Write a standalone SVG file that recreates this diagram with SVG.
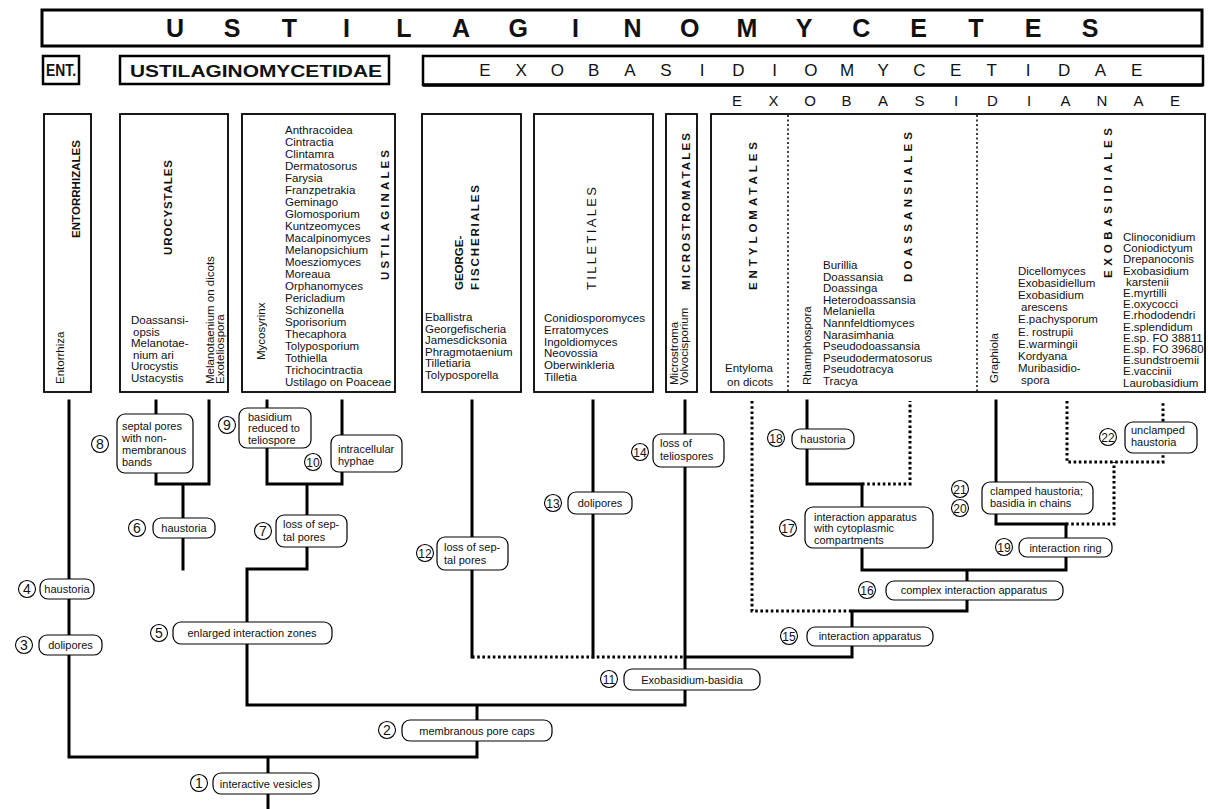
<svg xmlns="http://www.w3.org/2000/svg" width="1208" height="809" viewBox="0 0 1208 809">
<style>
text{font-family:"Liberation Sans",Arial,Helvetica,sans-serif;fill:#111}
.ln{stroke:#000;stroke-width:3;fill:none;stroke-linecap:square}
.dt{stroke:#000;stroke-width:3;fill:none;stroke-dasharray:2.6 2.6}
.bx{fill:#fff;stroke:#000;stroke-width:1.8}
.dv{stroke:#000;stroke-width:1.5;stroke-dasharray:2 2.5;fill:none}
.lb{fill:#fff;stroke:#000;stroke-width:1.2}
.cn{fill:#fff;stroke:#000;stroke-width:1.1}
.t{font-size:11px}
.c{text-anchor:middle}
.num{font-size:14px;text-anchor:middle}
.num2{font-size:12px;text-anchor:middle}
.g{font-size:11.5px}
.h{font-size:11.5px;font-weight:bold}
.top{font-size:25px;font-weight:bold;text-anchor:middle}
.r2{font-size:17px;text-anchor:middle}
.r3{font-size:15px;text-anchor:middle}
</style>

<g id="header">
<rect x="42" y="10" width="1160" height="36" fill="#fff" stroke="#000" stroke-width="3"/>
<text class="top" x="175 232.2 289.4 346.6 403.8 461 518.2 575.4 632.6 689.8 747 804.2 861.4 918.6 975.8 1033 1090.2" y="37">USTILAGINOMYCETES</text>
<rect x="43" y="56" width="36" height="28" fill="#fff" stroke="#000" stroke-width="2.5"/>
<text x="46" y="76" font-size="16" font-weight="bold" textLength="30" lengthAdjust="spacingAndGlyphs">ENT.</text>
<rect x="120" y="56" width="269" height="28" fill="#fff" stroke="#000" stroke-width="2.5"/>
<text x="130" y="77" font-size="17" font-weight="bold" textLength="252" lengthAdjust="spacingAndGlyphs">USTILAGINOMYCETIDAE</text>
<rect x="423" y="56" width="780" height="29" fill="#fff" stroke="#000" stroke-width="2.5"/>
<line x1="423" y1="85" x2="1203" y2="85" stroke="#000" stroke-width="3.5"/>
<text class="r2" x="485 521.2 557.4 593.6 629.8 666 702.2 738.4 774.6 810.8 847 883.2 919.4 955.6 991.8 1028 1064.2 1100.4 1136.6" y="76">EXOBASIDIOMYCETIDAE</text>
<text class="r3" x="737 773.5 810 846.5 883 919.5 956 992.5 1029 1065.5 1102 1138.5 1175" y="106">EXOBASIDIANAE</text>
</g>

<g id="entorrhizales">
<rect class="bx" x="44" y="114" width="47" height="278"/>
<text class="h" font-size="10.5" transform="rotate(-90 80 238)" x="80" y="238" textLength="98" lengthAdjust="spacing">ENTORRHIZALES</text>
<text class="g" transform="rotate(-90 64 384)" x="64" y="384">Entorrhiza</text>
</g>

<g id="urocystales">
<rect class="bx" x="120" y="114" width="108" height="278"/>
<text class="h" transform="rotate(-90 172 255)" x="172" y="255" textLength="95" lengthAdjust="spacing">UROCYSTALES</text>
<text class="g"><tspan x="131" y="324">Doassansi-</tspan><tspan x="133" y="335.6">opsis</tspan><tspan x="131" y="347.2">Melanotae-</tspan><tspan x="133" y="358.8">nium ari</tspan><tspan x="131" y="370.4">Urocystis</tspan><tspan x="131" y="382">Ustacystis</tspan></text>
<text class="g" font-size="11" transform="rotate(-90 214 384)" x="214" y="384">Melanotaenium on dicots</text>
<text class="g" font-size="11" transform="rotate(-90 224 384)" x="224" y="384">Exoteliospora</text>
</g>

<g id="ustilaginales">
<rect class="bx" x="242" y="114" width="153" height="278"/>
<text class="g" transform="rotate(-90 265 360)" x="265" y="360">Mycosyrinx</text>
<text class="h" transform="rotate(-90 389 280)" x="389" y="280" textLength="130" lengthAdjust="spacing">USTILAGINALES</text>
<text class="g"><tspan x="285" y="134">Anthracoidea</tspan><tspan x="285" y="146">Cintractia</tspan><tspan x="285" y="158">Clintamra</tspan><tspan x="285" y="170">Dermatosorus</tspan><tspan x="285" y="182">Farysia</tspan><tspan x="285" y="194">Franzpetrakia</tspan><tspan x="285" y="206">Geminago</tspan><tspan x="285" y="218">Glomosporium</tspan><tspan x="285" y="230">Kuntzeomyces</tspan><tspan x="285" y="242">Macalpinomyces</tspan><tspan x="285" y="254">Melanopsichium</tspan><tspan x="285" y="266">Moesziomyces</tspan><tspan x="285" y="278">Moreaua</tspan><tspan x="285" y="290">Orphanomyces</tspan><tspan x="285" y="302">Pericladium</tspan><tspan x="285" y="314">Schizonella</tspan><tspan x="285" y="326">Sporisorium</tspan><tspan x="285" y="338">Thecaphora</tspan><tspan x="285" y="350">Tolyposporium</tspan><tspan x="285" y="362">Tothiella</tspan><tspan x="285" y="374">Trichocintractia</tspan><tspan x="285" y="386">Ustilago on Poaceae</tspan></text>
</g>

<g id="georgefischeriales">
<rect class="bx" x="422" y="114" width="99" height="278"/>
<text class="h" transform="rotate(-90 463 290)" x="463" y="290">GEORGE-</text>
<text class="h" transform="rotate(-90 479 290)" x="479" y="290" textLength="105" lengthAdjust="spacing">FISCHERIALES</text>
<text class="g"><tspan x="425" y="321">Eballistra</tspan><tspan x="425" y="332.6">Georgefischeria</tspan><tspan x="425" y="344.2">Jamesdicksonia</tspan><tspan x="425" y="355.8">Phragmotaenium</tspan><tspan x="425" y="367.4">Tilletiaria</tspan><tspan x="425" y="379">Tolyposporella</tspan></text>
</g>

<g id="tilletiales">
<rect class="bx" x="534" y="114" width="119" height="278"/>
<text font-size="13" transform="rotate(-90 596 290)" x="596" y="290" textLength="103" lengthAdjust="spacing">TILLETIALES</text>
<text class="g"><tspan x="544" y="322">Conidiosporomyces</tspan><tspan x="544" y="333.8">Erratomyces</tspan><tspan x="544" y="345.6">Ingoldiomyces</tspan><tspan x="544" y="357.4">Neovossia</tspan><tspan x="544" y="369.2">Oberwinkleria</tspan><tspan x="544" y="381">Tilletia</tspan></text>
</g>

<g id="microstromatales">
<rect class="bx" x="666" y="114" width="31" height="278"/>
<text class="h" transform="rotate(-90 690 290)" x="690" y="290" textLength="157" lengthAdjust="spacing">MICROSTROMATALES</text>
<text class="g" font-size="11" transform="rotate(-90 678 385)" x="678" y="385">Microstroma</text>
<text class="g" font-size="11" transform="rotate(-90 688 385)" x="688" y="385">Volvocisporium</text>
</g>

<g id="exobasidianae-orders">
<rect class="bx" x="711" y="114" width="494" height="278"/>
<line class="dv" x1="788" y1="115" x2="788" y2="391"/>
<line class="dv" x1="977" y1="115" x2="977" y2="391"/>
</g>

<g id="entylomatales">
<text class="h" transform="rotate(-90 757 290)" x="757" y="290" textLength="148" lengthAdjust="spacing">ENTYLOMATALES</text>
<text class="g c"><tspan x="749" y="372">Entyloma</tspan><tspan x="750" y="386">on dicots</tspan></text>
</g>

<g id="doassansiales">
<text class="g" transform="rotate(-90 811 385)" x="811" y="385">Rhamphospora</text>
<text class="h" transform="rotate(-90 912 282)" x="912" y="282" textLength="150" lengthAdjust="spacing">DOASSANSIALES</text>
<text class="g"><tspan x="823" y="269">Burillia</tspan><tspan x="823" y="280.6">Doassansia</tspan><tspan x="823" y="292.2">Doassinga</tspan><tspan x="823" y="303.8">Heterodoassansia</tspan><tspan x="823" y="315.4">Melaniella</tspan><tspan x="823" y="327">Nannfeldtiomyces</tspan><tspan x="823" y="338.6">Narasimhania</tspan><tspan x="823" y="350.2">Pseudodoassansia</tspan><tspan x="823" y="361.8">Pseudodermatosorus</tspan><tspan x="823" y="373.4">Pseudotracya</tspan><tspan x="823" y="385">Tracya</tspan></text>
</g>

<g id="exobasidiales">
<text class="g" transform="rotate(-90 998 383)" x="998" y="383">Graphiola</text>
<text class="h" transform="rotate(-90 1112 278)" x="1112" y="278" textLength="150" lengthAdjust="spacing">EXOBASIDIALES</text>
<text class="g"><tspan x="1018" y="275">Dicellomyces</tspan><tspan x="1018" y="287.1">Exobasidiellum</tspan><tspan x="1018" y="299.2">Exobasidium</tspan><tspan x="1021" y="311.3">arescens</tspan><tspan x="1018" y="323.4">E.pachysporum</tspan><tspan x="1018" y="335.5">E. rostrupii</tspan><tspan x="1018" y="347.6">E.warmingii</tspan><tspan x="1018" y="359.7">Kordyana</tspan><tspan x="1018" y="371.8">Muribasidio-</tspan><tspan x="1021" y="383.9">spora</tspan></text>
<text class="g" font-size="11"><tspan x="1123" y="241">Clinoconidium</tspan><tspan x="1123" y="252.2">Coniodictyum</tspan><tspan x="1123" y="263.4">Drepanoconis</tspan><tspan x="1123" y="274.6">Exobasidium</tspan><tspan x="1126" y="285.8">karstenii</tspan><tspan x="1123" y="297">E.myrtilli</tspan><tspan x="1123" y="308.2">E.oxycocci</tspan><tspan x="1123" y="319.4">E.rhododendri</tspan><tspan x="1123" y="330.6">E.splendidum</tspan><tspan x="1123" y="341.8">E.sp. FO 38811</tspan><tspan x="1123" y="353">E.sp. FO 39680</tspan><tspan x="1123" y="364.2">E.sundstroemii</tspan><tspan x="1123" y="375.4">E.vaccinii</tspan><tspan x="1123" y="386.6">Laurobasidium</tspan></text>
</g>

<g id="connectors">
<path class="ln" d="M69 401V757H477M268 757V809M477 757V705M247 705H685M247 705V569H307M183 569V484M156 401V484H209V401M307 569V484M267 401V484H342V401M685 401V705M472 401V657M593 401V657M685 657H852V611H967V570M862 570H1066V524H996V401M862 570V484H807V401"/>
<path class="dt" d="M472 657H685M752 401V611H852M862 484H910V401M1066 524H1114V462M1067 401V462H1163V401"/>
</g>

<g id="n1"><circle class="cn" cx="199" cy="783" r="8.5"/><text class="num" x="199" y="788">1</text><rect class="lb" x="213" y="773" width="106" height="21" rx="8"/><text class="t c" x="266" y="787.5">interactive vesicles</text></g>
<g id="n2"><circle class="cn" cx="387" cy="730" r="8.5"/><text class="num" x="387" y="735">2</text><rect class="lb" x="402" y="720" width="150" height="21" rx="8"/><text class="t c" x="477" y="734.5">membranous pore caps</text></g>
<g id="n3"><circle class="cn" cx="24" cy="645" r="8.5"/><text class="num" x="24" y="650">3</text><rect class="lb" x="39" y="635" width="63" height="20" rx="8"/><text class="t c" x="70.5" y="649">dolipores</text></g>
<g id="n4"><circle class="cn" cx="27" cy="589" r="8.5"/><text class="num" x="27" y="594">4</text><rect class="lb" x="40" y="579" width="54" height="20" rx="8"/><text class="t c" x="67" y="593">haustoria</text></g>
<g id="n5"><circle class="cn" cx="159" cy="633" r="8.5"/><text class="num" x="159" y="638">5</text><rect class="lb" x="173" y="622" width="159" height="22" rx="8"/><text class="t c" x="252" y="637">enlarged interaction zones</text></g>
<g id="n6"><circle class="cn" cx="137" cy="528" r="8.5"/><text class="num" x="137" y="533">6</text><rect class="lb" x="153" y="518" width="62" height="20" rx="8"/><text class="t c" x="184" y="532">haustoria</text></g>
<g id="n7"><circle class="cn" cx="263" cy="531" r="8.5"/><text class="num" x="263" y="536">7</text><rect class="lb" x="276" y="515" width="71" height="32" rx="8"/><text class="t"><tspan x="283" y="528">loss of sep-</tspan><tspan x="283" y="541">tal pores</tspan></text></g>
<g id="n8"><circle class="cn" cx="100" cy="444" r="8.5"/><text class="num" x="100" y="449">8</text><rect class="lb" x="117" y="414" width="76" height="59" rx="8"/><text class="t"><tspan x="122" y="430">septal pores</tspan><tspan x="122" y="442">with non-</tspan><tspan x="122" y="454">membranous</tspan><tspan x="122" y="466">bands</tspan></text></g>
<g id="n9"><circle class="cn" cx="227" cy="425" r="8.5"/><text class="num" x="227" y="430">9</text><rect class="lb" x="239" y="408" width="72" height="40" rx="8"/><text class="t"><tspan x="248" y="421">basidium</tspan><tspan x="248" y="432">reduced to</tspan><tspan x="248" y="444">teliospore</tspan></text></g>
<g id="n10"><circle class="cn" cx="313" cy="462" r="8.5"/><text class="num2" x="313" y="466.5">10</text><rect class="lb" x="331" y="435" width="71" height="37" rx="8"/><text class="t"><tspan x="338" y="453">intracellular</tspan><tspan x="338" y="465">hyphae</tspan></text></g>
<g id="n11"><circle class="cn" cx="609" cy="679" r="8.5"/><text class="num2" x="609" y="683.5">11</text><rect class="lb" x="624" y="669" width="136" height="21" rx="8"/><text class="t c" x="692" y="683.5">Exobasidium-basidia</text></g>
<g id="n12"><circle class="cn" cx="425" cy="553" r="8.5"/><text class="num2" x="425" y="557.5">12</text><rect class="lb" x="437" y="537" width="71" height="33" rx="8"/><text class="t"><tspan x="444" y="551">loss of sep-</tspan><tspan x="444" y="564">tal pores</tspan></text></g>
<g id="n13"><circle class="cn" cx="553" cy="503" r="8.5"/><text class="num2" x="553" y="507.5">13</text><rect class="lb" x="568" y="492" width="64" height="22" rx="8"/><text class="t c" x="600" y="507">dolipores</text></g>
<g id="n14"><circle class="cn" cx="640" cy="452" r="8.5"/><text class="num2" x="640" y="456.5">14</text><rect class="lb" x="653" y="434" width="71" height="33" rx="8"/><text class="t"><tspan x="660" y="447">loss of</tspan><tspan x="660" y="460">teliospores</tspan></text></g>
<g id="n15"><circle class="cn" cx="789" cy="636" r="8.5"/><text class="num2" x="789" y="640.5">15</text><rect class="lb" x="807" y="627" width="126" height="19" rx="8"/><text class="t c" x="870" y="640">interaction apparatus</text></g>
<g id="n16"><circle class="cn" cx="867" cy="590" r="8.5"/><text class="num2" x="867" y="594.5">16</text><rect class="lb" x="886" y="581" width="177" height="19" rx="8"/><text class="t c" x="974" y="594">complex interaction apparatus</text></g>
<g id="n17"><circle class="cn" cx="788" cy="528" r="8.5"/><text class="num2" x="788" y="532.5">17</text><rect class="lb" x="805" y="507" width="128" height="41" rx="8"/><text class="t"><tspan x="814" y="521">interaction apparatus</tspan><tspan x="814" y="532">with cytoplasmic</tspan><tspan x="814" y="544">compartments</tspan></text></g>
<g id="n18"><circle class="cn" cx="776" cy="438" r="8.5"/><text class="num2" x="776" y="442.5">18</text><rect class="lb" x="792" y="429" width="62" height="20" rx="8"/><text class="t c" x="823" y="443">haustoria</text></g>
<g id="n19"><circle class="cn" cx="1004" cy="547" r="8.5"/><text class="num2" x="1004" y="551.5">19</text><rect class="lb" x="1019" y="538" width="93" height="19" rx="8"/><text class="t c" x="1065.5" y="551.5">interaction ring</text></g>
<g id="n20-21"><circle class="cn" cx="960" cy="489" r="8.5"/><text class="num2" x="960" y="493.5">21</text><circle class="cn" cx="960" cy="508" r="8.5"/><text class="num2" x="960" y="512.5">20</text><rect class="lb" x="982" y="482" width="111" height="32" rx="8"/><text class="t"><tspan x="990" y="495">clamped haustoria;</tspan><tspan x="990" y="507">basidia in chains</tspan></text></g>
<g id="n22"><circle class="cn" cx="1108" cy="437" r="8.5"/><text class="num2" x="1108" y="441.5">22</text><rect class="lb" x="1125" y="422" width="72" height="31" rx="8"/><text class="t"><tspan x="1131" y="434">unclamped</tspan><tspan x="1131" y="446">haustoria</tspan></text></g>
</svg>
